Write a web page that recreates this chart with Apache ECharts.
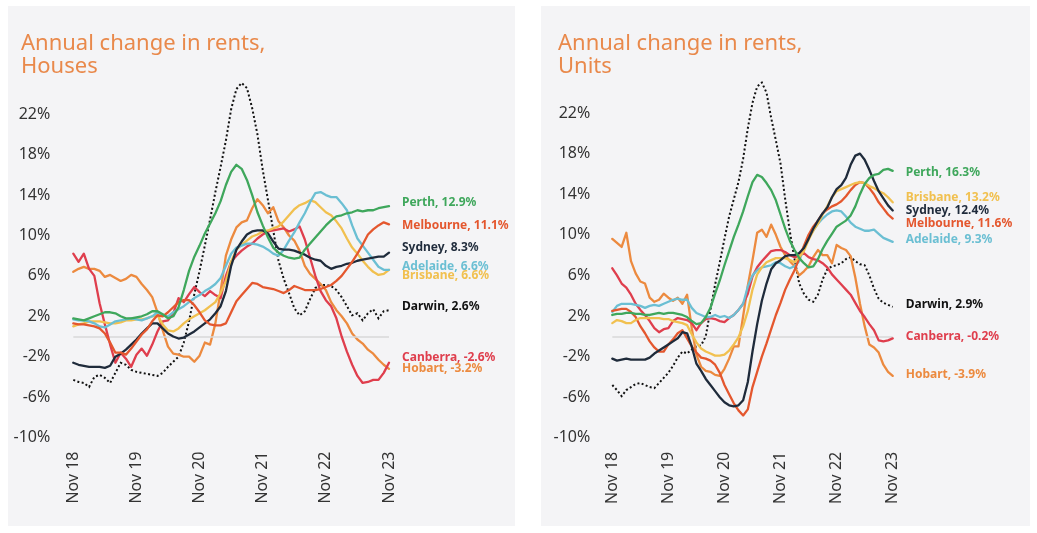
<!DOCTYPE html>
<html>
<head>
<meta charset="utf-8">
<script src="https://cdn.jsdelivr.net/npm/echarts@6/dist/echarts.min.js"></script>
<style>
  html, body { margin: 0; padding: 0; background: #ffffff; }
  #chart { width: 1037px; height: 533px; }
</style>
</head>
<body>
<div id="chart"></div>
<script>
// ---------- categories ----------
const monthNames = ['Jan','Feb','Mar','Apr','May','Jun','Jul','Aug','Sep','Oct','Nov','Dec'];
const categories = [];
for (let k = 0; k <= 60; k++) {
  const m = (10 + k) % 12;
  const yr = 18 + Math.floor((10 + k) / 12);
  categories.push(monthNames[m] + ' ' + yr);
}
const yTicks = [-10, -6, -2, 2, 6, 10, 14, 18, 22];

// ---------- Houses (annual % change) ----------
const housesPerth = [1.8,1.7,1.6,1.8,2.0,2.2,2.4,2.4,2.3,2.0, 1.8,1.8,1.9,2.0,2.2,2.5,2.5,2.2,1.8,2.0, 2.9,4.6,6.5,7.9,9.0,10.2,11.2,12.2,13.4,15.0, 16.3,17.0,16.6,15.5,14.0,12.3,11.0,9.8,8.8,8.3, 8.0,7.8,7.7,7.8,8.6,9.2,9.8,10.4,11.0,11.5, 11.9,12.0,12.2,12.3,12.5,12.4,12.5,12.5,12.7,12.8, 12.9];
const housesMelbourne = [1.3,1.2,1.2,1.1,1.0,0.8,0.3,-0.6,-1.6,-1.6, -1.8,-1.2,-0.5,0.2,0.7,1.5,2.1,2.0,2.4,2.9, 3.4,3.6,3.6,3.1,2.4,1.6,1.2,1.1,1.1,1.3, 2.4,3.5,4.1,4.7,5.3,5.2,4.9,4.8,4.7,4.5, 4.3,4.6,5.0,4.8,4.6,4.6,4.6,4.7,4.9,5.1, 5.5,6.0,6.7,7.4,8.2,9.1,10.1,10.6,11.0,11.3, 11.1];
const housesSydney = [-2.6,-2.8,-2.9,-3.0,-3.0,-3.0,-3.1,-2.9,-2.0,-1.7, -1.3,-0.8,-0.3,0.3,0.8,1.3,1.3,0.8,0.3,0.0, -0.2,-0.1,0.2,0.5,0.9,1.3,1.7,2.3,3.0,4.5, 7.0,8.6,9.4,10.1,10.4,10.5,10.5,10.2,9.4,8.7, 8.6,8.6,8.5,8.3,8.1,7.8,7.6,7.5,7.0,6.7, 6.9,7.0,7.2,7.3,7.5,7.6,7.7,7.8,7.9,7.9, 8.3];
const housesAdelaide = [1.7,1.6,1.6,1.5,1.3,1.0,0.9,1.2,1.5,1.6, 1.7,1.8,1.7,1.6,1.8,2.0,2.4,2.1,2.0,2.4, 2.7,3.0,3.4,3.8,4.1,4.5,4.8,5.2,5.8,7.0, 8.2,8.8,9.0,9.2,9.2,9.1,8.9,8.6,8.2,8.0, 8.6,9.5,10.3,11.3,12.2,13.3,14.2,14.3,14.0,13.8, 13.8,13.2,12.5,11.0,9.7,9.0,8.3,7.6,6.9,6.6, 6.6];
const housesBrisbane = [1.0,1.2,1.3,1.5,1.5,1.5,1.4,1.3,1.3,1.4, 1.6,1.6,1.7,1.7,1.8,2.0,2.1,1.2,0.6,0.5, 0.8,1.3,1.7,2.0,2.3,2.6,3.0,3.4,4.3,5.5, 7.4,8.6,9.1,9.5,9.9,10.1,10.4,10.5,10.7,10.9, 11.4,12.0,12.6,13.0,13.2,13.5,13.3,12.8,12.3,12.0, 11.4,10.7,9.7,8.8,8.2,7.5,6.9,6.4,6.1,6.2, 6.6];
const housesDarwin = [-4.3,-4.5,-4.6,-5.0,-4.0,-3.8,-4.1,-4.6,-3.6,-2.6, -2.8,-3.3,-3.5,-3.6,-3.7,-3.8,-3.9,-3.6,-3.0,-2.5, -2.0,-0.6,1.5,4.2,6.5,9.0,11.6,14.3,16.8,19.4, 22.5,24.5,25.1,24.6,22.6,20.0,16.5,13.5,10.5,7.5, 5.7,4.3,2.8,2.1,2.5,3.7,4.8,5.1,5.1,5.0, 4.6,3.9,3.0,2.1,2.3,1.6,2.3,2.7,1.8,2.5, 2.6];
const housesCanberra = [8.2,7.4,8.2,6.7,6.0,3.3,1.2,-0.8,-2.6,-1.6, -2.2,-3.0,-1.8,-1.2,-1.9,-0.8,0.5,1.5,1.6,2.3, 3.8,3.4,4.2,4.9,4.4,4.0,4.5,4.1,3.8,6.0, 7.4,8.0,8.5,8.9,9.2,9.7,10.1,10.4,10.5,10.6, 10.7,10.4,10.6,10.9,9.6,7.8,6.0,4.5,3.6,3.0, 1.8,0.0,-1.5,-2.8,-3.9,-4.6,-4.5,-4.3,-4.3,-3.6, -2.6];
const housesHobart = [6.4,6.7,6.9,6.7,6.7,6.5,5.9,6.1,5.8,5.5, 5.7,6.1,5.9,5.2,4.6,3.9,2.4,0.6,-1.0,-1.7, -1.8,-2.0,-2.0,-2.5,-1.9,-0.6,-0.8,1.3,4.5,8.0, 9.6,10.8,11.3,11.5,12.7,13.6,13.0,12.2,12.8,11.4, 10.8,10.0,9.5,8.5,7.0,6.2,5.7,5.2,4.6,3.4, 2.6,2.0,1.3,0.3,-0.3,-0.7,-1.3,-1.7,-2.3,-2.8, -3.2];

// ---------- Units (annual % change) ----------
const unitsPerth = [2.1,2.2,2.2,2.3,2.3,2.2,2.2,2.1,2.1,2.2, 2.3,2.2,2.3,2.3,2.2,2.1,1.9,1.5,1.2,1.3, 1.9,2.8,4.2,5.5,7.0,8.4,9.8,11.0,12.3,13.8, 15.2,15.9,15.7,15.1,14.4,13.4,12.0,10.6,9.4,8.5, 7.7,7.2,6.8,6.9,7.6,8.6,9.4,10.1,10.8,11.1, 11.4,11.9,12.8,14.0,15.0,15.6,15.9,16.0,16.4,16.5, 16.3];
const unitsBrisbane = [1.3,1.6,1.5,1.3,1.3,1.6,1.8,1.8,1.8,1.8, 1.8,1.7,1.7,1.5,1.4,1.3,1.1,0.2,-0.6,-1.2, -1.5,-1.7,-1.9,-1.9,-1.8,-1.4,-0.8,-0.1,1.0,2.5, 4.6,6.1,6.8,7.3,7.5,7.7,7.7,7.7,7.5,7.3, 7.8,8.4,9.5,10.4,11.1,12.0,12.8,13.7,14.3,14.5, 14.7,14.9,15.1,15.2,15.1,14.8,14.6,14.3,14.1,13.7, 13.2];
const unitsSydney = [-2.2,-2.4,-2.3,-2.2,-2.3,-2.3,-2.3,-2.3,-2.1,-1.7, -1.4,-1.1,-0.8,-0.5,-0.2,0.4,0.3,-1.0,-2.7,-3.4, -4.2,-4.8,-5.4,-6.0,-6.5,-6.8,-6.9,-6.8,-6.3,-4.5, -1.5,1.2,3.5,5.2,6.6,7.2,7.5,7.9,8.0,8.0, 8.2,8.7,9.6,10.6,11.4,12.1,12.7,13.7,14.5,14.9, 15.6,16.9,17.8,18.0,17.4,16.4,15.3,14.3,13.6,12.9, 12.4];
const unitsMelbourne = [2.5,2.6,2.7,2.7,2.4,1.9,1.0,0.3,-0.5,-1.1, -1.5,-1.5,-0.8,-0.3,0.3,0.6,-0.2,-1.0,-1.6,-2.1, -2.2,-2.4,-2.8,-3.6,-4.8,-5.7,-6.6,-7.3,-7.8,-7.2, -5.0,-3.5,-2.0,-0.7,0.7,2.1,3.3,4.6,5.6,6.5, 7.7,8.9,10.0,10.8,11.4,12.1,12.5,12.8,13.0,13.3, 13.8,14.4,14.9,15.2,15.1,14.6,14.0,13.2,12.6,12.0, 11.6];
const unitsAdelaide = [2.4,3.0,3.2,3.2,3.2,3.1,3.0,2.8,3.0,3.1, 3.0,3.2,3.4,3.6,3.7,3.6,3.6,2.8,2.3,2.1, 1.9,1.9,2.1,1.9,2.0,1.8,2.1,2.6,3.2,4.9, 6.0,6.5,6.8,6.9,7.0,7.3,7.2,6.9,6.7,6.9, 7.4,8.8,9.8,10.4,11.1,11.6,12.0,12.3,12.4,12.3, 11.8,11.2,10.8,10.6,10.4,10.4,10.5,10.1,9.7,9.5, 9.3];
const unitsDarwin = [-4.8,-5.3,-5.9,-5.3,-5.0,-4.7,-4.6,-4.8,-5.0,-5.1, -4.6,-4.1,-3.6,-2.9,-2.1,-1.5,-1.7,-1.3,-1.0,-0.9, 0.0,2.6,5.1,7.3,9.6,11.8,13.5,15.2,17.5,20.5, 23.0,24.6,25.0,24.0,21.5,19.3,17.0,13.5,10.3,7.6, 5.2,4.2,3.6,3.4,4.1,5.6,6.6,6.9,7.0,7.2, 7.6,7.8,7.4,7.1,7.0,6.0,4.7,3.7,3.3,3.1, 2.9];
const unitsCanberra = [6.7,6.0,5.2,4.8,4.1,3.2,2.6,2.1,1.5,0.8, 0.4,0.7,0.8,1.5,1.8,1.7,1.6,1.3,0.6,1.3, 1.7,1.8,1.7,1.5,1.4,1.8,2.1,2.6,3.2,4.2, 5.9,6.8,7.4,7.9,8.4,8.5,8.5,8.3,8.0,7.8, 7.9,8.2,7.8,7.6,7.5,7.2,6.8,6.1,5.6,5.1, 4.6,4.1,3.3,2.5,1.9,1.2,0.6,-0.4,-0.5,-0.4, -0.2];
const unitsHobart = [9.6,9.2,8.8,10.2,7.4,6.2,5.4,5.2,3.8,3.4, 3.6,4.2,3.8,3.5,3.8,3.2,4.1,0.8,-1.8,-3.0, -3.4,-3.5,-3.8,-3.9,-3.2,-2.2,-1.0,-1.0,2.0,5.0, 7.5,10.2,10.5,9.8,11.0,10.0,8.8,8.0,7.4,6.9, 6.0,6.4,6.9,7.8,8.5,8.0,8.0,7.2,9.0,8.7, 8.5,7.9,5.8,3.2,1.0,-0.8,-1.1,-1.6,-2.8,-3.5, -3.9];

// ---------- styles ----------
const FONT = "'Noto Sans', 'DejaVu Sans', sans-serif";
const COLORS = {
  Perth: '#3fa75c', Melbourne: '#e4572e', Sydney: '#1f2b3b', Adelaide: '#6bbfd3',
  Brisbane: '#f1c04f', Darwin: '#111111', Canberra: '#df3e4d', Hobart: '#ec8a3f'
};
const TITLE_COLOR = '#e9894b';

function lineSeries(name, data, axisIdx, dy, z) {
  const dotted = name === 'Darwin';
  return {
    type: 'line', name: name, data: data,
    xAxisIndex: axisIdx, yAxisIndex: axisIdx,
    showSymbol: false, symbol: 'none', smooth: false, z: z,
    lineStyle: dotted
      ? { color: COLORS[name], width: 2, type: [2, 2.4], cap: 'butt', join: 'miter' }
      : { color: COLORS[name], width: 2.3, type: 'solid', cap: 'round', join: 'round' },
    itemStyle: { color: COLORS[name] },
    endLabel: {
      show: true, distance: 13, offset: [0, dy],
      formatter: p => p.seriesName + ', ' + Number(p.value).toFixed(1) + '%',
      color: COLORS[name], fontFamily: FONT, fontWeight: 'bold', fontSize: 12
    },
    emphasis: { disabled: true }
  };
}

function xAxisCfg(gi) {
  return {
    type: 'category', gridIndex: gi, data: categories, boundaryGap: false,
    axisLine: { show: false }, axisTick: { show: false }, splitLine: { show: false },
    axisLabel: { interval: 11, rotate: 90, margin: 14, color: '#333333', fontFamily: FONT, fontSize: 16 }
  };
}
function yAxisCfg(gi, margin) {
  return {
    type: 'value', gridIndex: gi, min: -10, max: 26, interval: 4,
    axisLine: { show: false }, axisTick: { show: false }, splitLine: { show: false },
    axisLabel: {
      margin: margin, color: '#333333', fontFamily: FONT, fontSize: 16,
      formatter: v => (yTicks.indexOf(v) >= 0 ? v + '%' : '')
    }
  };
}

const zeroLine = {
  type: 'line', data: [], xAxisIndex: 0, yAxisIndex: 0, silent: true,
  markLine: { silent: true, symbol: 'none', label: { show: false },
    lineStyle: { color: '#d9d9d9', width: 1.5, type: 'solid' }, data: [{ yAxis: 0 }] }
};
const zeroLine2 = Object.assign({}, zeroLine, { xAxisIndex: 1, yAxisIndex: 1 });

const option = {
  animation: false,
  backgroundColor: '#ffffff',
  graphic: [
    { type: 'rect', z: -10, shape: { x: 8, y: 6, width: 507, height: 520 }, style: { fill: '#f4f4f6' } },
    { type: 'rect', z: -10, shape: { x: 541, y: 6, width: 489, height: 520 }, style: { fill: '#f4f4f6' } }
  ],
  title: [
    { text: 'Annual change in rents,\nHouses', left: 16, top: 27,
      textStyle: { color: TITLE_COLOR, fontFamily: FONT, fontWeight: 'normal', fontSize: 22, lineHeight: 23 } },
    { text: 'Annual change in rents,\nUnits', left: 553, top: 27,
      textStyle: { color: TITLE_COLOR, fontFamily: FONT, fontWeight: 'normal', fontSize: 22, lineHeight: 23 } }
  ],
  grid: [
    { left: 73.3, top: 73.9, width: 315.7, height: 363.6 },
    { left: 612.3, top: 72.4, width: 280.4, height: 365.4 }
  ],
  xAxis: [xAxisCfg(0), xAxisCfg(1)],
  yAxis: [yAxisCfg(0, 23), yAxisCfg(1, 22)],
  series: [
    zeroLine, zeroLine2,
    lineSeries('Darwin', housesDarwin, 0, -3.5, 3),
    lineSeries('Hobart', housesHobart, 0, 0, 4),
    lineSeries('Canberra', housesCanberra, 0, -5, 5),
    lineSeries('Brisbane', housesBrisbane, 0, 6, 6),
    lineSeries('Adelaide', housesAdelaide, 0, -3, 7),
    lineSeries('Sydney', housesSydney, 0, -5, 8),
    lineSeries('Melbourne', housesMelbourne, 0, 1, 9),
    lineSeries('Perth', housesPerth, 0, -4, 10),

    lineSeries('Darwin', unitsDarwin, 1, -2.6, 3),
    lineSeries('Hobart', unitsHobart, 1, -1, 4),
    lineSeries('Canberra', unitsCanberra, 1, -1.6, 5),
    lineSeries('Adelaide', unitsAdelaide, 1, -2.6, 6),
    lineSeries('Melbourne', unitsMelbourne, 1, 5.4, 7),
    lineSeries('Brisbane', unitsBrisbane, 1, -4.6, 8),
    lineSeries('Sydney', unitsSydney, 1, 0.6, 9),
    lineSeries('Perth', unitsPerth, 1, 2, 10)
  ]
};

const chart = echarts.init(document.getElementById('chart'), null, { renderer: 'canvas' });
chart.setOption(option);
</script>
</body>
</html>
